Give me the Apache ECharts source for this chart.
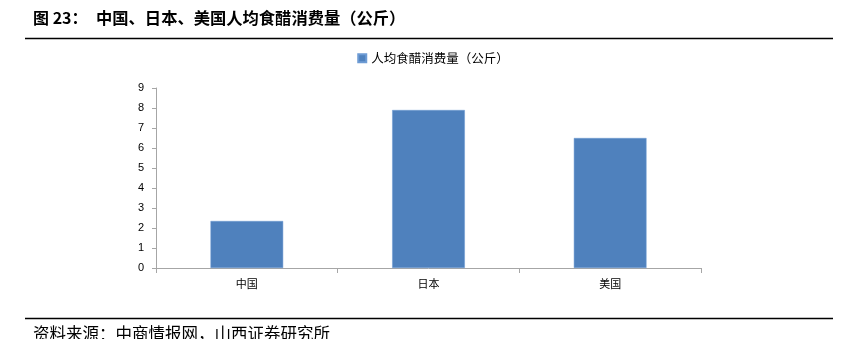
<!DOCTYPE html>
<html><head><meta charset="utf-8">
<script src="https://cdn.jsdelivr.net/npm/echarts@6/dist/echarts.min.js"></script>
<style>html,body{margin:0;padding:0;background:#fff}#c{width:866px;height:339px}</style>
</head><body><div id="c"></div>
<script>
const categories = ['中国', '日本', '美国'];
const values = [2.35, 7.9, 6.5];
const seriesName = '人均食醋消费量（公斤）';
const yTicks = [0, 1, 2, 3, 4, 5, 6, 7, 8, 9];
const titleLabel = '图 23：';
const titleText = '中国、日本、美国人均食醋消费量（公斤）';
const sourceText = '资料来源：中商情报网，山西证券研究所';

const font = '"Noto Sans CJK SC", "Liberation Serif", serif';
const chart = echarts.init(document.getElementById('c'), null, {renderer: 'canvas'});
chart.setOption({
  animation: false,
  backgroundColor: '#fff',
  legend: {
    top: 47, left: 'center',
    itemWidth: 8, itemHeight: 8, icon: 'rect',
    textStyle: {fontFamily: font, fontSize: 12.5, color: '#000'},
    data: [seriesName]
  },
  grid: {left: 156, right: 165, top: 88, bottom: 71, containLabel: false},
  xAxis: {
    type: 'category', data: categories,
    axisLine: {lineStyle: {color: '#a6a6a6', width: 1}},
    axisTick: {show: true, alignWithLabel: false, length: 5, lineStyle: {color: '#a6a6a6'}},
    axisLabel: {fontFamily: font, fontSize: 11, color: '#000', margin: 10}
  },
  yAxis: {
    type: 'value', min: yTicks[0], max: yTicks[yTicks.length - 1], interval: 1,
    axisLine: {show: true, lineStyle: {color: '#a6a6a6'}},
    axisTick: {show: true, length: 4, lineStyle: {color: '#a6a6a6'}},
    splitLine: {show: false},
    axisLabel: {fontFamily: '"Liberation Sans", sans-serif', fontSize: 11, color: '#000', margin: 12}
  },
  series: [{
    name: seriesName, type: 'bar', data: values, barWidth: '40%',
    itemStyle: {color: '#4f81bd', borderColor: '#6d9bd4', borderWidth: 0.5}
  }],
  graphic: [
    {type: 'text', left: 33, top: 10, style: {text: titleLabel, font: 'bold 16px ' + font, fill: '#000'}},
    {type: 'text', left: 96, top: 10, style: {text: titleText, font: 'bold 16.3px ' + font, fill: '#000'}},
    {type: 'line', shape: {x1: 25, y1: 38.5, x2: 833, y2: 38.5}, style: {stroke: '#000', lineWidth: 1.5}},
    {type: 'line', shape: {x1: 25, y1: 318.5, x2: 833, y2: 318.5}, style: {stroke: '#000', lineWidth: 1.5}},
    {type: 'text', left: 33, top: 325, style: {text: sourceText, font: '16.5px ' + font, fill: '#000'}}
  ]
});
</script></body></html>
